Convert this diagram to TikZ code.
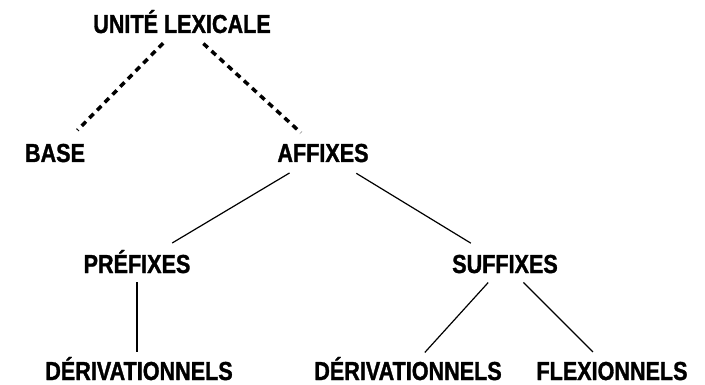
\documentclass[tikz,border=0pt]{standalone}
\usepackage{fontspec}
\newfontfamily\labfont{Liberation Sans}[FakeStretch=0.83, BoldFeatures={FakeBold=1.2}]
\begin{document}
\begin{tikzpicture}[x=1pt,y=-1pt,
  lab/.style={inner sep=0pt, text height=18pt, text depth=0pt, font=\labfont\fontsize{26}{26}\selectfont\bfseries},
  dotted link/.style={line width=3.5pt, dash pattern=on 6pt off 5pt},
  solid link/.style={line width=1.2pt}]
\useasboundingbox (0,0) rectangle (705,385);
\node[lab] (ul)   at (182,24)  {UNITÉ LEXICALE};
\node[lab] (base) at (55,153)  {BASE};
\node[lab] (aff)  at (323,153) {AFFIXES};
\node[lab] (pre)  at (137,264) {PRÉFIXES};
\node[lab] (suf)  at (505,264) {SUFFIXES};
\node[lab] (d1)   at (139,371) {DÉRIVATIONNELS};
\node[lab] (d2)   at (408,371) {DÉRIVATIONNELS};
\node[lab] (fl)   at (612,371) {FLEXIONNELS};
\draw[dotted link, shorten <=27pt, shorten >=32pt] (ul.center) -- (base.center);
\draw[dotted link, shorten <=29pt, shorten >=30pt] (ul.center) -- (aff.center);
\draw[solid link, shorten <=39pt, shorten >=41pt] (aff.center) -- (pre.center);
\draw[solid link, shorten <=39pt, shorten >=40pt] (aff.center) -- (suf.center);
\draw[solid link, shorten <=18pt, shorten >=19pt] (pre.center) -- (pre.center |- d1.center);
\draw[solid link, shorten <=25pt, shorten >=25pt] (suf.center) -- (d2.center);
\draw[solid link, shorten <=26pt, shorten >=27pt] (suf.center) -- (fl.center);
\end{tikzpicture}
\end{document}
